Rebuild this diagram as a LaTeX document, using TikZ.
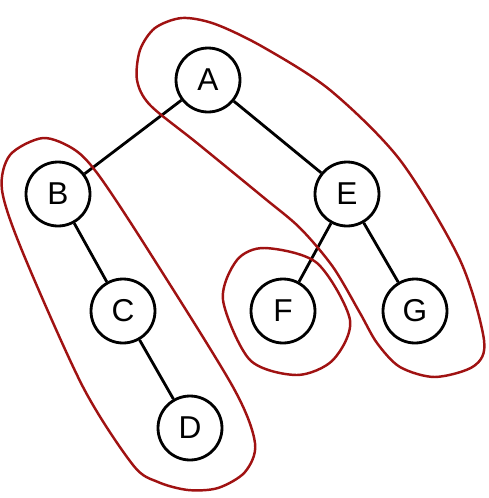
\documentclass[tikz,border=0pt]{standalone}
\usepackage{fontspec}
\setmainfont{Liberation Sans}
\usepackage{tikz}
\usetikzlibrary{positioning}
\definecolor{loopred}{RGB}{160,18,18}

\begin{document}
\begin{tikzpicture}[x=0.02cm,y=-0.02cm,
    vertex/.style={circle,draw,line width=1.6pt,minimum size=1.28cm,inner sep=0pt,font=\fontsize{18}{20}\selectfont},
    edge/.style={line width=1.6pt},
    group/.style={draw=loopred,line width=1.4pt}]
  \useasboundingbox (0,0) rectangle (489,498);
  \node[vertex] (A) at (208,80) {A};
  \node[vertex] (B) at (58,194) {B};
  \node[vertex] (C) at (123,311) {C};
  \node[vertex] (D) at (190,428) {D};
  \node[vertex] (E) at (347,194) {E};
  \node[vertex] (F) at (283,311) {F};
  \node[vertex] (G) at (415,311) {G};
  \draw[edge] (A) -- (B);
  \draw[edge] (A) -- (E);
  \draw[edge] (B) -- (C);
  \draw[edge] (C) -- (D);
  \draw[edge] (E) -- (F);
  \draw[edge] (E) -- (G);
  \draw[group] plot[smooth cycle] coordinates {(140,50) (155,28) (182,18) (215,24) (263,47) (330,90) (400,160) (460,260) (484,340) (474,366) (435,377) (400,367) (377,343) (360,313) (333,267) (300,228) (263,197) (197,143) (150,105) (137,80)};
  \draw[group] plot[smooth cycle] coordinates {(43,138) (75,150) (100,177) (150,253) (233,387) (255,443) (245,472) (218,488) (188,490) (158,482) (133,465) (83,387) (23,253) (2,190) (10,155)};
  \draw[group] plot[smooth cycle] coordinates {(265,248) (317,263) (350,320) (333,360) (297,375) (250,360) (223,300) (237,260)};
\end{tikzpicture}
\end{document}
